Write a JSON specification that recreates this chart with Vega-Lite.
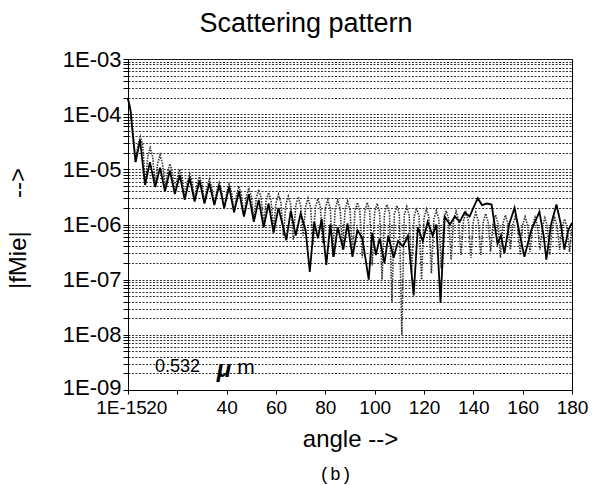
{
  "$schema": "https://vega.github.io/schema/vega-lite/v6.json",
  "width": 444,
  "height": 331,
  "autosize": "none",
  "padding": {"left": 128, "top": 59, "right": 23, "bottom": 95},
  "background": "white",
  "title": {"text": "Scattering pattern", "fontSize": 27, "font": "Liberation Sans", "fontWeight": "normal", "color": "black", "anchor": "middle", "dx": -44, "dy": -6},
  "config": {"view": {"stroke": "black", "strokeWidth": 1}, "font": "Liberation Sans"},
  "datasets": {
    "dotted": [
      {"angle":0,"fMie":1.9e-4},{"angle":1,"fMie":1.2e-4},{"angle":2,"fMie":5e-5},{"angle":3,"fMie":1.35e-5},
      {"angle":4,"fMie":2.7e-5},{"angle":5,"fMie":3.9e-5},{"angle":6,"fMie":2.7e-5},{"angle":7,"fMie":5.2e-6},
      {"angle":8,"fMie":1.7e-5},{"angle":9,"fMie":2.45e-5},{"angle":10,"fMie":1.7e-5},{"angle":11,"fMie":5.0e-6},
      {"angle":12,"fMie":1.27e-5},{"angle":13,"fMie":1.82e-5},{"angle":14,"fMie":1.27e-5},{"angle":15,"fMie":4.3e-6},
      {"angle":16,"fMie":8.8e-6},{"angle":17,"fMie":1.26e-5},{"angle":18,"fMie":8.8e-6},{"angle":19,"fMie":3.7e-6},
      {"angle":20,"fMie":7.0e-6},{"angle":21,"fMie":1.0e-5},{"angle":22,"fMie":7.0e-6},{"angle":23,"fMie":3.15e-6},
      {"angle":24,"fMie":5.8e-6},{"angle":25,"fMie":8.3e-6},{"angle":26,"fMie":5.8e-6},{"angle":27,"fMie":2.8e-6},
      {"angle":28,"fMie":5.2e-6},{"angle":29,"fMie":7.4e-6},{"angle":30,"fMie":5.2e-6},{"angle":31,"fMie":2.55e-6},
      {"angle":32,"fMie":4.6e-6},{"angle":33,"fMie":6.6e-6},{"angle":34,"fMie":4.6e-6},{"angle":35,"fMie":2.3e-6},
      {"angle":36,"fMie":4.0e-6},{"angle":37,"fMie":5.75e-6},{"angle":38,"fMie":4.0e-6},{"angle":39,"fMie":1.9e-6},
      {"angle":40,"fMie":3.8e-6},{"angle":41,"fMie":5.4e-6},{"angle":42,"fMie":3.8e-6},{"angle":43,"fMie":1.66e-6},
      {"angle":44,"fMie":3.4e-6},{"angle":45,"fMie":4.9e-6},{"angle":46,"fMie":3.4e-6},{"angle":47,"fMie":1.4e-6},
      {"angle":48,"fMie":3.2e-6},{"angle":49,"fMie":4.6e-6},{"angle":50,"fMie":3.2e-6},{"angle":51,"fMie":1.2e-6},
      {"angle":52,"fMie":3.0e-6},{"angle":53,"fMie":4.3e-6},{"angle":54,"fMie":3.0e-6},{"angle":55,"fMie":1.0e-6},
      {"angle":56,"fMie":2.66e-6},{"angle":57,"fMie":3.8e-6},{"angle":58,"fMie":2.66e-6},{"angle":59,"fMie":7.9e-7},
      {"angle":60,"fMie":2.45e-6},{"angle":61,"fMie":3.5e-6},{"angle":62,"fMie":2.45e-6},{"angle":63,"fMie":6.3e-7},
      {"angle":64,"fMie":2.28e-6},{"angle":65,"fMie":3.25e-6},{"angle":66,"fMie":2.28e-6},{"angle":67,"fMie":5.2e-7},
      {"angle":68,"fMie":2.2e-6},{"angle":69,"fMie":3.15e-6},{"angle":70,"fMie":2.2e-6},{"angle":71,"fMie":6.3e-7},
      {"angle":72,"fMie":2.1e-6},{"angle":73,"fMie":3.0e-6},{"angle":74,"fMie":2.1e-6},{"angle":75,"fMie":4.3e-7},
      {"angle":76,"fMie":2.07e-6},{"angle":77,"fMie":2.95e-6},{"angle":78,"fMie":2.07e-6},{"angle":79,"fMie":4.5e-7},
      {"angle":80,"fMie":1.96e-6},{"angle":81,"fMie":2.8e-6},{"angle":82,"fMie":1.96e-6},{"angle":83,"fMie":2.6e-7},
      {"angle":84,"fMie":1.93e-6},{"angle":85,"fMie":2.75e-6},{"angle":86,"fMie":1.93e-6},{"angle":87,"fMie":3.5e-7},
      {"angle":88,"fMie":1.86e-6},{"angle":89,"fMie":2.65e-6},{"angle":90,"fMie":1.86e-6},{"angle":91,"fMie":2.8e-7},
      {"angle":92,"fMie":1.75e-6},{"angle":93,"fMie":2.5e-6},{"angle":94,"fMie":1.75e-6},{"angle":95,"fMie":2.5e-7},
      {"angle":96,"fMie":1.75e-6},{"angle":97,"fMie":2.5e-6},{"angle":98,"fMie":1.75e-6},{"angle":99,"fMie":1.8e-7},
      {"angle":100,"fMie":1.68e-6},{"angle":101,"fMie":2.4e-6},{"angle":102,"fMie":1.68e-6},{"angle":103,"fMie":1.0e-7},
      {"angle":104,"fMie":1.61e-6},{"angle":105,"fMie":2.3e-6},{"angle":106,"fMie":1.61e-6},{"angle":107,"fMie":3.8e-8},
      {"angle":108,"fMie":1.54e-6},{"angle":109,"fMie":2.2e-6},{"angle":110,"fMie":1.54e-6},{"angle":111,"fMie":1.0e-8},
      {"angle":112,"fMie":1.47e-6},{"angle":113,"fMie":2.1e-6},{"angle":114,"fMie":1.47e-6},{"angle":115,"fMie":1.26e-7},
      {"angle":116,"fMie":1.4e-6},{"angle":117,"fMie":2.0e-6},{"angle":118,"fMie":1.4e-6},{"angle":119,"fMie":1.0e-7},
      {"angle":120,"fMie":1.33e-6},{"angle":121,"fMie":1.9e-6},{"angle":122,"fMie":1.33e-6},{"angle":123,"fMie":1.3e-7},
      {"angle":124,"fMie":1.26e-6},{"angle":125,"fMie":1.8e-6},{"angle":126,"fMie":1.26e-6},{"angle":127,"fMie":1.6e-7},
      {"angle":128,"fMie":1.25e-6},{"angle":129,"fMie":1.78e-6},{"angle":130,"fMie":1.25e-6},{"angle":131,"fMie":2.3e-7},
      {"angle":132,"fMie":1.22e-6},{"angle":133,"fMie":1.74e-6},{"angle":134,"fMie":1.22e-6},{"angle":135,"fMie":2.8e-7},
      {"angle":136,"fMie":1.16e-6},{"angle":137,"fMie":1.66e-6},{"angle":138,"fMie":1.16e-6},{"angle":139,"fMie":2.5e-7},
      {"angle":140,"fMie":1.16e-6},{"angle":141,"fMie":1.66e-6},{"angle":142,"fMie":1.16e-6},{"angle":143,"fMie":2.8e-7},
      {"angle":144,"fMie":1.1e-6},{"angle":145,"fMie":1.58e-6},{"angle":146,"fMie":1.1e-6},{"angle":147,"fMie":3.2e-7},
      {"angle":148,"fMie":1.05e-6},{"angle":149,"fMie":1.5e-6},{"angle":150,"fMie":1.05e-6},{"angle":151,"fMie":2.5e-7},
      {"angle":152,"fMie":1.04e-6},{"angle":153,"fMie":1.48e-6},{"angle":154,"fMie":1.04e-6},{"angle":155,"fMie":3.5e-7},
      {"angle":156,"fMie":9.8e-7},{"angle":157,"fMie":1.4e-6},{"angle":158,"fMie":9.8e-7},{"angle":159,"fMie":2.8e-7},
      {"angle":160,"fMie":9.7e-7},{"angle":161,"fMie":1.38e-6},{"angle":162,"fMie":9.7e-7},{"angle":163,"fMie":3.2e-7},
      {"angle":164,"fMie":9.5e-7},{"angle":165,"fMie":1.35e-6},{"angle":166,"fMie":9.5e-7},{"angle":167,"fMie":3.5e-7},
      {"angle":168,"fMie":9.2e-7},{"angle":169,"fMie":1.32e-6},{"angle":170,"fMie":9.2e-7},{"angle":171,"fMie":2.8e-7},
      {"angle":172,"fMie":9.2e-7},{"angle":173,"fMie":1.32e-6},{"angle":174,"fMie":9.2e-7},{"angle":175,"fMie":3.5e-7},
      {"angle":176,"fMie":8.8e-7},{"angle":177,"fMie":1.26e-6},{"angle":178,"fMie":8.8e-7},{"angle":179,"fMie":3.2e-7},
      {"angle":180,"fMie":8.8e-7}
    ],
    "solid": [
      {"angle":0,"fMie":1.9e-4},{"angle":1,"fMie":1.2e-4},{"angle":2,"fMie":4e-5},{"angle":3.1,"fMie":1.35e-5},
      {"angle":4.9,"fMie":3.4e-5},{"angle":6.9,"fMie":5.2e-6},{"angle":8.9,"fMie":1.35e-5},{"angle":11,"fMie":4.8e-6},
      {"angle":13,"fMie":1.07e-5},{"angle":15,"fMie":4.0e-6},{"angle":17,"fMie":9.5e-6},{"angle":19,"fMie":3.55e-6},
      {"angle":21,"fMie":7.9e-6},{"angle":23,"fMie":2.8e-6},{"angle":25,"fMie":7.1e-6},{"angle":27,"fMie":2.6e-6},
      {"angle":29,"fMie":6.3e-6},{"angle":31,"fMie":2.4e-6},{"angle":33,"fMie":5.6e-6},{"angle":35,"fMie":2.25e-6},
      {"angle":37,"fMie":5.2e-6},{"angle":39,"fMie":2.0e-6},{"angle":41,"fMie":4.8e-6},{"angle":43,"fMie":1.66e-6},
      {"angle":45,"fMie":4.0e-6},{"angle":47,"fMie":1.4e-6},{"angle":49,"fMie":3.55e-6},{"angle":51,"fMie":1.12e-6},
      {"angle":53,"fMie":2.8e-6},{"angle":55,"fMie":8.9e-7},{"angle":57,"fMie":2.4e-6},{"angle":59,"fMie":7.1e-7},
      {"angle":61,"fMie":2.0e-6},{"angle":64.2,"fMie":5.2e-7},{"angle":66,"fMie":1.78e-6},{"angle":68,"fMie":6.3e-7},
      {"angle":70,"fMie":1.58e-6},{"angle":72,"fMie":7.9e-7},{"angle":73.7,"fMie":1.38e-7},{"angle":75.5,"fMie":1.12e-6},
      {"angle":77,"fMie":5.6e-7},{"angle":78.5,"fMie":1.26e-6},{"angle":80.4,"fMie":1.86e-7},{"angle":82,"fMie":1.0e-6},
      {"angle":83.4,"fMie":2.6e-7},{"angle":85,"fMie":8.9e-7},{"angle":87.3,"fMie":3.5e-7},{"angle":89,"fMie":1.05e-6},
      {"angle":91,"fMie":2.6e-7},{"angle":93,"fMie":7.9e-7},{"angle":95,"fMie":5.6e-7},{"angle":97.6,"fMie":1.0e-7},
      {"angle":99,"fMie":7.1e-7},{"angle":100.5,"fMie":2.8e-7},{"angle":102,"fMie":5.6e-7},{"angle":104,"fMie":2.0e-7},
      {"angle":105.5,"fMie":6.3e-7},{"angle":107.7,"fMie":2.5e-7},{"angle":109.5,"fMie":5.0e-7},{"angle":111.5,"fMie":4.0e-7},
      {"angle":113.5,"fMie":6.3e-7},{"angle":115.8,"fMie":5.2e-8},{"angle":117.5,"fMie":8.9e-7},{"angle":119.5,"fMie":5.0e-7},
      {"angle":121.5,"fMie":1.12e-6},{"angle":123.5,"fMie":6.3e-7},{"angle":125,"fMie":1.0e-6},{"angle":126.7,"fMie":3.8e-8},
      {"angle":128.4,"fMie":1.38e-6},{"angle":130.5,"fMie":1.0e-6},{"angle":132.5,"fMie":1.4e-6},{"angle":134.5,"fMie":1.12e-6},
      {"angle":136.5,"fMie":1.66e-6},{"angle":138.5,"fMie":1.4e-6},{"angle":140,"fMie":2.0e-6},{"angle":141.8,"fMie":3.0e-6},
      {"angle":143.5,"fMie":2.25e-6},{"angle":145.5,"fMie":2.4e-6},{"angle":147.4,"fMie":2.3e-6},{"angle":149.8,"fMie":4.5e-7},
      {"angle":151.2,"fMie":6.3e-7},{"angle":152.6,"fMie":3.0e-7},{"angle":154.5,"fMie":1.0e-6},{"angle":156.7,"fMie":2.0e-6},
      {"angle":158.5,"fMie":7.9e-7},{"angle":160.7,"fMie":2.6e-7},{"angle":163.5,"fMie":7.9e-7},{"angle":166.8,"fMie":1.7e-6},
      {"angle":168.5,"fMie":6.3e-7},{"angle":169.6,"fMie":2.3e-7},{"angle":171.5,"fMie":1.0e-6},{"angle":173.7,"fMie":2.3e-6},
      {"angle":175.5,"fMie":1.0e-6},{"angle":176.9,"fMie":3.5e-7},{"angle":178.5,"fMie":7.9e-7},{"angle":180,"fMie":1.07e-6}
    ]
  },
  "layer": [
    {
      "data": {"name": "dotted"},
      "mark": {"type": "line", "color": "#333333", "strokeDash": [1.5, 1.2], "strokeWidth": 1.6},
      "encoding": {
        "x": {"field": "angle", "type": "quantitative", "scale": {"domain": [0, 180], "nice": false},
          "axis": {"orient": "bottom", "values": [0,20,40,60,80,100,120,140,160,180],
            "labelExpr": "datum.value == 0 ? '1E-15' : datum.label",
            "labelFlush": false, "labelOverlap": false, "labelFontSize": 19, "labelColor": "black", "labelPadding": 4,
            "labelOffset": {"condition": [{"test": "datum.value == 20", "value": -21}, {"test": "datum.value == 0", "value": -7}], "value": 0},
            "tickSize": 4, "tickColor": "black", "domainColor": "black", "grid": false,
            "title": "angle -->", "titleFontSize": 24, "titleFontWeight": "normal", "titleColor": "black",
            "titleY": 49, "titleBaseline": "middle"}},
        "y": {"field": "fMie", "type": "quantitative", "scale": {"type": "log", "domain": [1e-9, 1e-3], "nice": false},
          "axis": {"values": [1e-9,2e-9,3e-9,4e-9,5e-9,6e-9,7e-9,8e-9,9e-9,1e-8,2e-8,3e-8,4e-8,5e-8,6e-8,7e-8,8e-8,9e-8,1e-7,2e-7,3e-7,4e-7,5e-7,6e-7,7e-7,8e-7,9e-7,1e-6,2e-6,3e-6,4e-6,5e-6,6e-6,7e-6,8e-6,9e-6,1e-5,2e-5,3e-5,4e-5,5e-5,6e-5,7e-5,8e-5,9e-5,1e-4,2e-4,3e-4,4e-4,5e-4,6e-4,7e-4,8e-4,9e-4,1e-3],
            "labelExpr": "abs(log(datum.value)/LN10 - round(log(datum.value)/LN10)) < 0.01 ? '1E-0' + (-round(log(datum.value)/LN10)) : ''",
            "labelOverlap": false, "labelFontSize": 22, "labelColor": "black", "labelPadding": 2,
            "labelOffset": {"condition": {"test": "datum.value < 2e-9", "value": -3}, "value": 0},
            "tickSize": 5, "tickColor": "black", "domainColor": "black",
            "grid": true, "gridColor": "#333333", "gridDash": [2, 1.5], "gridOpacity": 1, "gridWidth": 1,
            "title": "|fMie|\u00a0\u00a0\u00a0\u00a0\u00a0-->", "titleFontSize": 24, "titleFontWeight": "normal", "titleColor": "black",
            "titleX": -110, "titleY": 169, "titleAngle": -90, "titleAlign": "center", "titleBaseline": "middle"}}
      }
    },
    {
      "data": {"name": "solid"},
      "mark": {"type": "line", "color": "black", "strokeWidth": 1.8},
      "encoding": {
        "x": {"field": "angle", "type": "quantitative", "axis": null},
        "y": {"field": "fMie", "type": "quantitative"}
      }
    },
    {
      "data": {"values": [{"label": "0.532"}]},
      "mark": {"type": "text", "fontSize": 18, "align": "left", "baseline": "middle", "color": "black"},
      "encoding": {
        "x": {"datum": 10.9, "type": "quantitative",
          "axis": {"orient": "bottom", "labels": false, "ticks": false, "domain": false, "grid": false,
            "title": "(b)", "titleFont": "Liberation Mono", "titleFontSize": 18, "titleFontWeight": "normal", "titleColor": "black",
            "titleX": 207, "titleY": 84, "titleBaseline": "middle"}},
        "y": {"datum": 2.6e-9, "type": "quantitative"},
        "text": {"field": "label"}
      }
    },
    {
      "data": {"values": [{"label": "μ"}]},
      "mark": {"type": "text", "fontSize": 24, "fontStyle": "italic", "fontWeight": "bold", "align": "left", "baseline": "middle", "color": "black"},
      "encoding": {
        "x": {"datum": 36.0, "type": "quantitative", "axis": null},
        "y": {"datum": 2.3e-9, "type": "quantitative"},
        "text": {"field": "label"}
      }
    },
    {
      "data": {"values": [{"label": "m"}]},
      "mark": {"type": "text", "fontSize": 21, "align": "left", "baseline": "middle", "color": "black"},
      "encoding": {
        "x": {"datum": 44.3, "type": "quantitative", "axis": null},
        "y": {"datum": 2.5e-9, "type": "quantitative"},
        "text": {"field": "label"}
      }
    }
  ],
  "resolve": {"axis": {"x": "independent"}}
}
